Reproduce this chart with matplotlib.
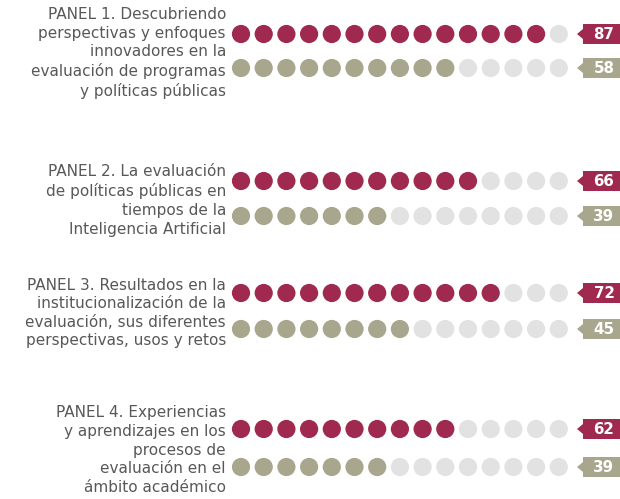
import numpy as np
import matplotlib.pyplot as plt
from matplotlib.patches import Polygon

# datos
paneles = [
    "PANEL 1. Descubriendo\nperspectivas y enfoques\ninnovadores en la\nevaluación de programas\ny políticas públicas",
    "PANEL 2. La evaluación\nde políticas públicas en\ntiempos de la\nInteligencia Artificial",
    "PANEL 3. Resultados en la\ninstitucionalización de la\nevaluación, sus diferentes\nperspectivas, usos y retos",
    "PANEL 4. Experiencias\ny aprendizajes en los\nprocesos de\nevaluación en el\námbito académico",
]
serie_a = [87, 66, 72, 62]
serie_b = [58, 39, 45, 39]

n_puntos = 15
unidad = 6.25  # valor que representa cada punto

col_a = "#A02A4F"
col_b = "#A9A68E"
col_vacio = "#E2E2E2"
col_texto = "#585858"

plt.rcParams['font.family'] = ['DejaVu Sans']

fig = plt.figure(figsize=(6.2, 4.99), dpi=100)
ax = fig.add_axes([0, 0, 1, 1])
ax.set_xlim(0, 620)
ax.set_ylim(499, 0)
ax.axis('off')

# posiciones verticales de las filas (pixeles)
filas = [(34, 68), (181, 216), (293, 329), (429, 467)]
x0 = 241
paso = 22.7
xs = x0 + paso * np.arange(n_puntos)

def etiqueta(y, valor, color):
    x1, x2 = 583, 622
    h = 10
    pts = [(x1, y - h), (x2, y - h), (x2, y + h), (x1, y + h),
           (x1, y + 5), (x1 - 6, y), (x1, y - 5)]
    ax.add_patch(Polygon(pts, closed=True, fc=color, ec='none'))
    ax.text(604, y + 0.5, str(valor), color='white', fontsize=10.8,
            fontweight='bold', ha='center', va='center')

for i, (texto, a, b) in enumerate(zip(paneles, serie_a, serie_b)):
    ya, yb = filas[i]
    for y, v, c in ((ya, a, col_a), (yb, b, col_b)):
        lleno = int(np.ceil(v / unidad))
        colores = [c] * lleno + [col_vacio] * (n_puntos - lleno)
        ax.scatter(xs, [y] * n_puntos, s=172, c=colores, linewidths=0)
        etiqueta(y, v, c)
    ax.text(226, (ya + yb) / 2 + 2, texto, ha='right', va='center', fontsize=11,
            color=col_texto, linespacing=1.3)

plt.savefig('out.png', dpi=100)
